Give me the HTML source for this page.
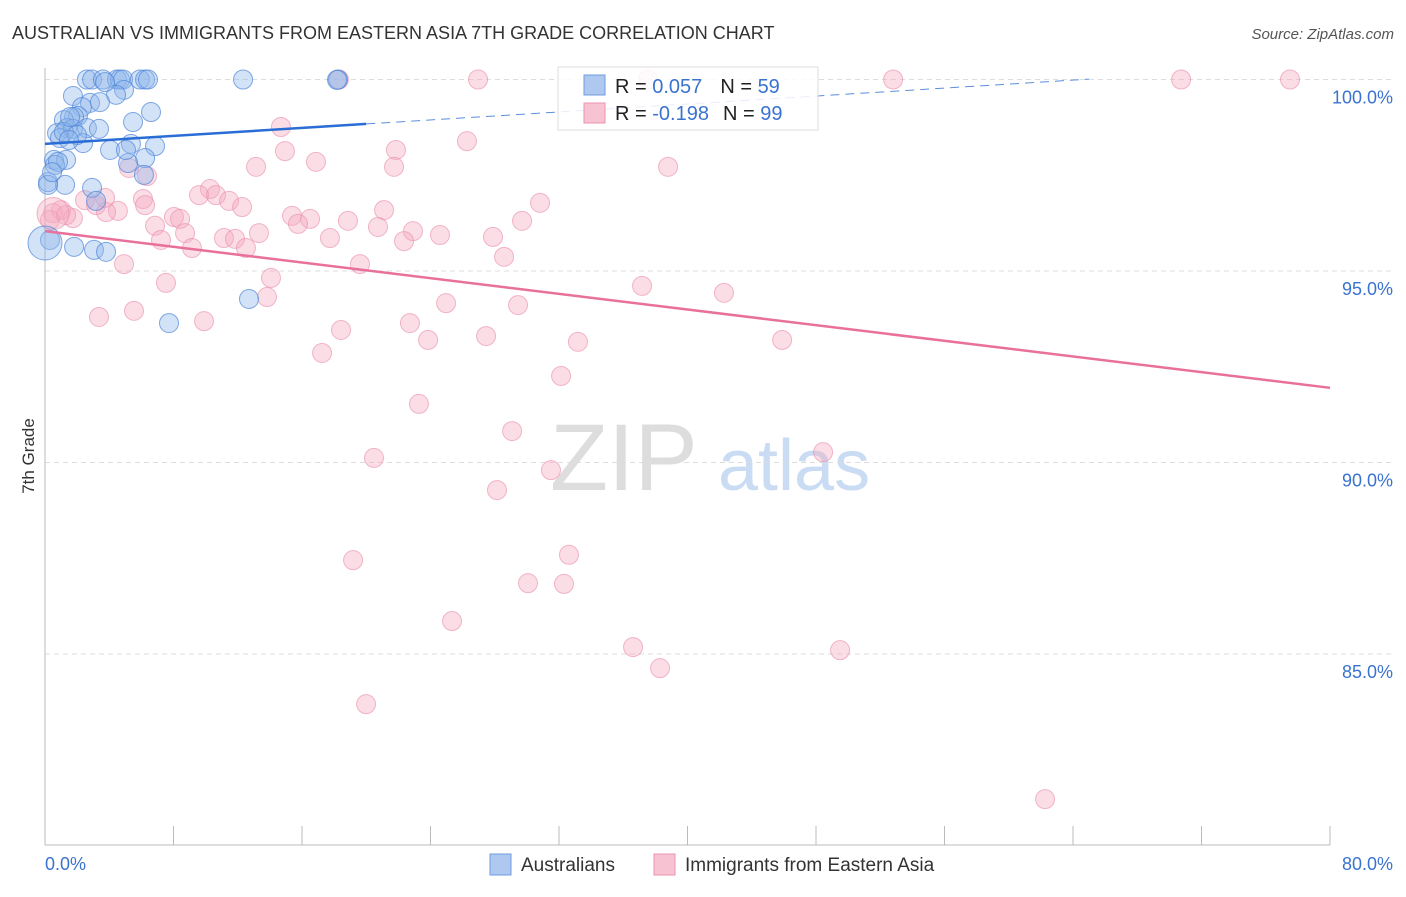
<!DOCTYPE html>
<html><head><meta charset="utf-8"><style>
body{margin:0;background:#fff;font-family:"Liberation Sans",sans-serif}
svg text{font-family:"Liberation Sans",sans-serif}
</style></head><body>
<svg width="1406" height="892" xmlns="http://www.w3.org/2000/svg">
<text x="12" y="39" font-size="18" fill="#333">AUSTRALIAN VS IMMIGRANTS FROM EASTERN ASIA 7TH GRADE CORRELATION CHART</text>
<text x="1394" y="39" font-size="15" fill="#555" font-style="italic" text-anchor="end">Source: ZipAtlas.com</text>
<text x="34" y="456" font-size="17" fill="#333" transform="rotate(-90 34 456)" text-anchor="middle">7th Grade</text>
<text x="550" y="490" font-size="95" fill="#ddd" font-family="Liberation Serif">ZIP</text>
<text x="718" y="490" font-size="72" fill="#c9dcf3">atlas</text>
<g id="grid"></g><g id="axes"></g><g id="pts"></g><g id="trend"></g>
<g>
<rect x="558" y="67" width="260" height="63" fill="#fff" fill-opacity="0.85" stroke="#ddd"/>
<rect x="584" y="75" width="21" height="20" fill="#aec8ef" stroke="#6f9de0"/>
<text x="615" y="93" font-size="20" fill="#222">R = <tspan fill="#3a73cf">0.057</tspan><tspan dx="18">N = </tspan><tspan fill="#3a73cf">59</tspan></text>
<rect x="584" y="103" width="21" height="20" fill="#f7c3d2" stroke="#eb93ad"/>
<text x="615" y="120" font-size="20" fill="#222">R = <tspan fill="#3a73cf">-0.198</tspan><tspan dx="14">N = </tspan><tspan fill="#3a73cf">99</tspan></text>
</g>
<g>
<rect x="490" y="854" width="21" height="21" fill="#aec8ef" stroke="#6f9de0"/>
<text x="521" y="871" font-size="19" fill="#333">Australians</text>
<rect x="654" y="854" width="21" height="21" fill="#f7c3d2" stroke="#eb93ad"/>
<text x="685" y="871" font-size="19" fill="#333">Immigrants from Eastern Asia</text>
</g>
</svg>
<script>
const yTicks=[100,95,90,85];
const yTickLabels=["100.0%","95.0%","90.0%","85.0%"];
const xTickCount=[0,8,16,24,32,40,48,56,64,72,80];
const blueX=[2.61,2.93,3.61,4.48,4.67,4.86,5.91,6.23,6.41,12.33,18.24,1.74,2.80,2.30,4.92,4.42,3.42,6.60,2.05,1.81,1.18,1.37,0.75,1.74,2.61,3.36,0.93,5.48,2.37,4.05,5.35,6.85,0.56,1.31,0.62,6.23,5.17,6.16,0.19,1.25,2.93,3.18,0.19,0.31,1.81,3.05,3.80,12.70,7.72,1.18,1.56,1.99,0.81,0.44,1.49,5.04,0.0,3.74,18.18];
const blueY=[100,100,100,100,100,100,100,100,100,100,100,99.57,99.39,99.28,99.73,99.60,99.41,99.15,99.05,99.02,98.94,98.73,98.60,98.71,98.73,98.71,98.47,98.89,98.34,98.16,98.32,98.26,97.90,97.90,97.77,97.95,97.82,97.51,97.32,97.25,97.17,96.83,97.25,95.81,95.63,95.55,95.50,94.27,93.64,98.63,99.02,98.55,97.85,97.58,98.42,98.16,95.73,99.93,99.99];
const pinkX=[26.96,37.54,52.80,70.73,77.51,18.30,14.69,26.27,21.85,14.94,16.87,38.79,21.73,13.14,5.23,6.35,10.27,9.59,10.65,11.46,30.82,6.10,2.49,3.18,4.54,3.80,1.00,0.50,1.74,21.11,12.27,8.03,8.41,15.38,16.50,15.75,18.86,29.70,20.73,6.85,8.72,13.32,24.59,22.91,17.74,11.14,11.83,7.22,27.89,22.35,9.15,12.51,28.58,19.61,4.92,14.07,7.53,37.17,13.82,24.97,42.27,29.45,3.36,5.54,9.90,22.72,18.43,23.85,27.46,33.18,45.89,17.25,32.13,23.28,29.08,20.48,48.44,31.50,28.14,19.18,32.62,30.07,32.31,25.34,36.61,49.50,38.29,19.99,62.26,3.74,6.23,0.31,1.31,0.5];
const pinkY=[100,100,100,100,100,100,98.76,98.39,98.16,98.13,97.85,97.72,97.72,97.72,97.69,97.48,97.14,96.98,96.98,96.83,96.78,96.88,96.85,96.72,96.57,96.54,96.59,96.51,96.38,96.59,96.67,96.41,96.36,96.44,96.36,96.23,96.31,96.31,96.15,96.18,95.99,95.99,95.94,96.04,95.86,95.86,95.84,95.81,95.89,95.78,95.60,95.60,95.37,95.18,95.18,94.82,94.69,94.61,94.32,94.16,94.43,94.11,93.80,93.96,93.69,93.64,93.46,93.20,93.30,93.15,93.20,92.86,92.26,91.53,90.82,90.12,90.27,89.80,89.28,87.45,87.59,86.85,86.83,85.86,85.18,85.10,84.63,83.69,81.21,96.91,96.72,96.33,96.46,96.5];
const blueTrend=[98.32,100.4];
const pinkTrend=[96.04,91.95];
const NS="http://www.w3.org/2000/svg";
const X=v=>45+v/80*1285;
const Y=v=>79.5+(100-v)*38.3;
function mk(t,a,p){const e=document.createElementNS(NS,t);for(const k in a)e.setAttribute(k,a[k]);document.getElementById(p).appendChild(e);return e;}
yTicks.forEach((t,i)=>{
 const g=mk('line',{x1:45,x2:1393,y1:Y(t),y2:Y(t),stroke:'#ddd','stroke-dasharray':'5,4'},'grid');
 
 
 const l=mk('text',{x:1393,y:Y(t)+24,'font-size':18,fill:'#3a73cf','text-anchor':'end'},'grid');
 l.textContent=yTickLabels[i];
 
 
});
const ax=mk('line',{x1:45,x2:45,y1:68,y2:845,stroke:'#bbb'},'axes');


const bx=mk('line',{x1:45,x2:1330,y1:845,y2:845,stroke:'#bbb'},'axes');


xTickCount.forEach(t=>{
 const k=mk('line',{x1:X(t),x2:X(t),y1:826,y2:845,stroke:'#bbb'},'axes');
 
 
});
const xl=mk('text',{x:45,y:870,'font-size':18,fill:'#3a73cf'},'axes');xl.textContent='0.0%';


const xr=mk('text',{x:1393,y:870,'font-size':18,fill:'#3a73cf','text-anchor':'end'},'axes');xr.textContent='80.0%';


pinkX.forEach((v,i)=>{
 const c=mk('circle',{cx:X(v),cy:Y(pinkY[i]),r:i==pinkX.length-1?16:9.5,fill:'#f4a9c0','fill-opacity':0.4,stroke:'#ea8aaa','stroke-opacity':0.6},'pts');
 
 
});
blueX.forEach((v,i)=>{
 const c=mk('circle',{cx:X(v),cy:Y(blueY[i]),r:i==56?17:9.5,fill:'#8fb6ea','fill-opacity':0.4,stroke:'#4f86d8','stroke-opacity':0.7},'pts');
 
 
});
const by=x=>blueTrend[0]+(blueTrend[1]-blueTrend[0])*x/80;
const t1=mk('line',{x1:X(0),y1:Y(by(0)),x2:X(20),y2:Y(by(20)),stroke:'#2a6dd6','stroke-width':2.5},'trend');


const t2=mk('line',{x1:X(20),y1:Y(by(20)),x2:X(65),y2:Y(by(65)),stroke:'#5a8fdc','stroke-width':1,'stroke-dasharray':'9,6'},'trend');


const t3=mk('line',{x1:X(0),y1:Y(pinkTrend[0]),x2:X(80),y2:Y(pinkTrend[1]),stroke:'#e8709a','stroke-width':2.5},'trend');


</script>
</body></html>
